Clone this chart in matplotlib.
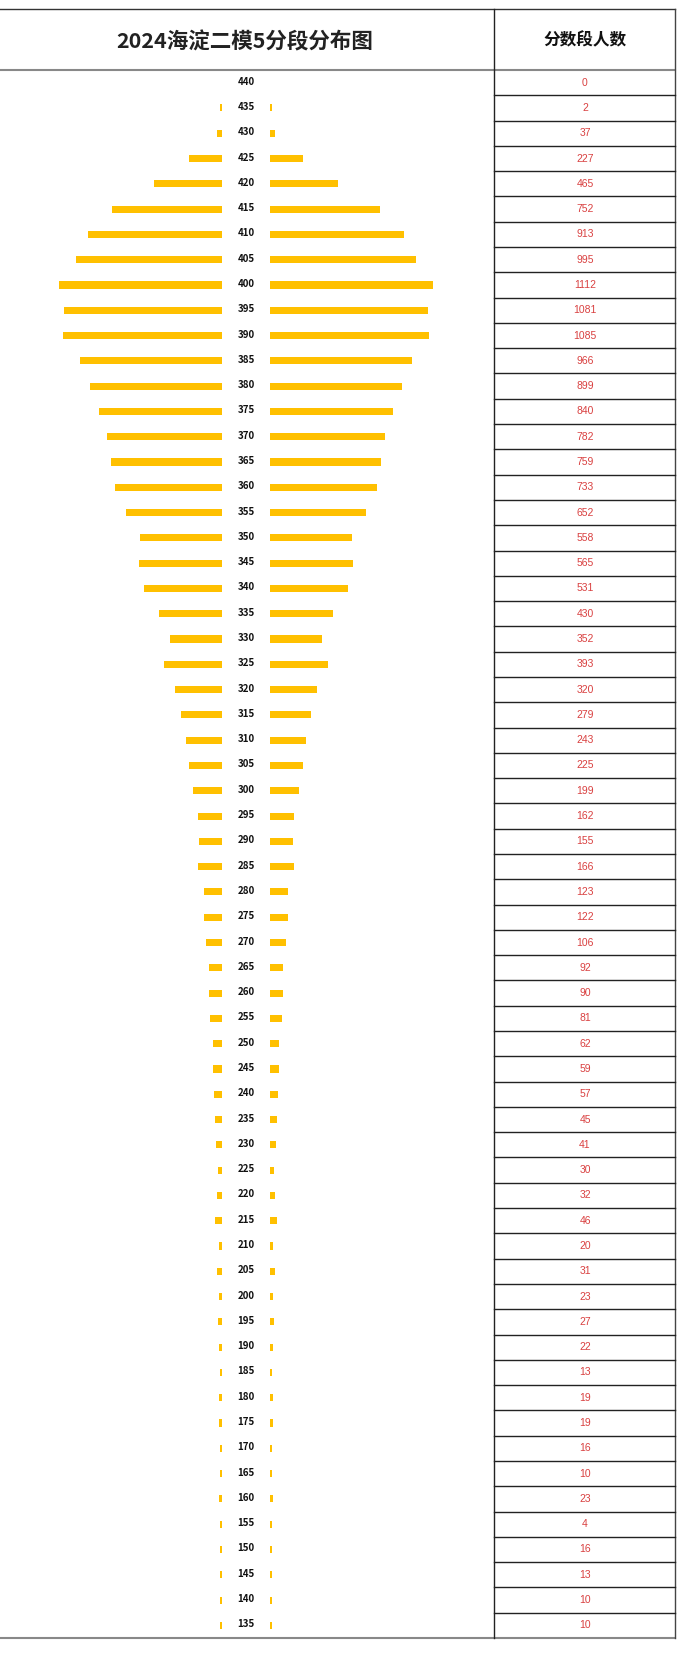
import numpy as np
import matplotlib
matplotlib.use("Agg")
from matplotlib import pyplot as plt

plt.rcParams['font.family'] = ['Noto Sans CJK SC', 'DejaVu Sans']

# donnees
titre = "2024海淀二模5分段分布图"
entete = "分数段人数"
scores = list(range(440, 130, -5))
nombres = [0, 2, 37, 227, 465, 752, 913, 995, 1112, 1081, 1085, 966, 899, 840,
           782, 759, 733, 652, 558, 565, 531, 430, 352, 393, 320, 279, 243, 225,
           199, 162, 155, 166, 123, 122, 106, 92, 90, 81, 62, 59, 57, 45, 41, 30,
           32, 46, 20, 31, 23, 27, 22, 13, 19, 19, 16, 10, 23, 4, 16, 13, 10, 10]

W, H = 687, 1654
haut, bas = 70, 1638          # zone des lignes (px)
gauche_fin, droite_debut, table_g, table_d = 222, 270, 494, 675
px_par_pers = 0.1466
n = len(scores)
pas = (bas - haut) / n

fig = plt.figure(figsize=(W / 100, H / 100), dpi=100)

# fond / cadre en pixels
fond = fig.add_axes([0, 0, 1, 1])
fond.set_xlim(0, W)
fond.set_ylim(H, 0)
fond.axis('off')

def pos(x0, x1):
    return [x0 / W, 1 - bas / H, (x1 - x0) / W, (bas - haut) / H]

y = np.arange(n)
# les petites barres restent visibles (largeur mini ~2 px)
largeurs = [v if v == 0 else max(v, 15) for v in nombres]

# barres gauche
axg = fig.add_axes(pos(0, gauche_fin))
axg.barh(y, largeurs, height=0.28, color='#FFC000')
axg.set_xlim(gauche_fin / px_par_pers, 0)
axg.set_ylim(n - 0.5, -0.5)
axg.axis('off')

# barres droite
axd = fig.add_axes(pos(droite_debut, table_g))
axd.barh(y, largeurs, height=0.28, color='#FFC000')
axd.set_xlim(0, (table_g - droite_debut) / px_par_pers)
axd.set_ylim(n - 0.5, -0.5)
axd.axis('off')

# titre et entete
fond.text(245, 42, titre, ha='center', va='center', fontsize=15.5, fontweight='bold',
          color='#222222')
fond.text(585, 40, entete, ha='center', va='center', fontsize=12, fontweight='bold',
          color='#111111')

# lignes du cadre
fond.plot([0, table_d], [9, 9], color='#333333', lw=1)
fond.plot([0, table_d], [haut, haut], color='#888888', lw=1.5)
fond.plot([0, table_d], [bas, bas], color='#888888', lw=1.5)
fond.plot([table_g, table_g], [9, bas], color='#222222', lw=1)
fond.plot([table_d, table_d], [9, bas], color='#444444', lw=1)

for i in range(n):
    yc = haut + (i + 0.5) * pas
    fond.text(246, yc - 1, str(scores[i]), ha='center', va='center', fontsize=7,
              fontweight='bold', color='#111111')
    fond.text(585, yc, str(nombres[i]), ha='center', va='center', fontsize=7.5,
              family='Liberation Sans', color='#D94040')
    if i < n - 1:
        yl = haut + (i + 1) * pas
        fond.plot([table_g, table_d], [yl, yl], color='#222222', lw=1)

fig.savefig('out.png', dpi=100)
